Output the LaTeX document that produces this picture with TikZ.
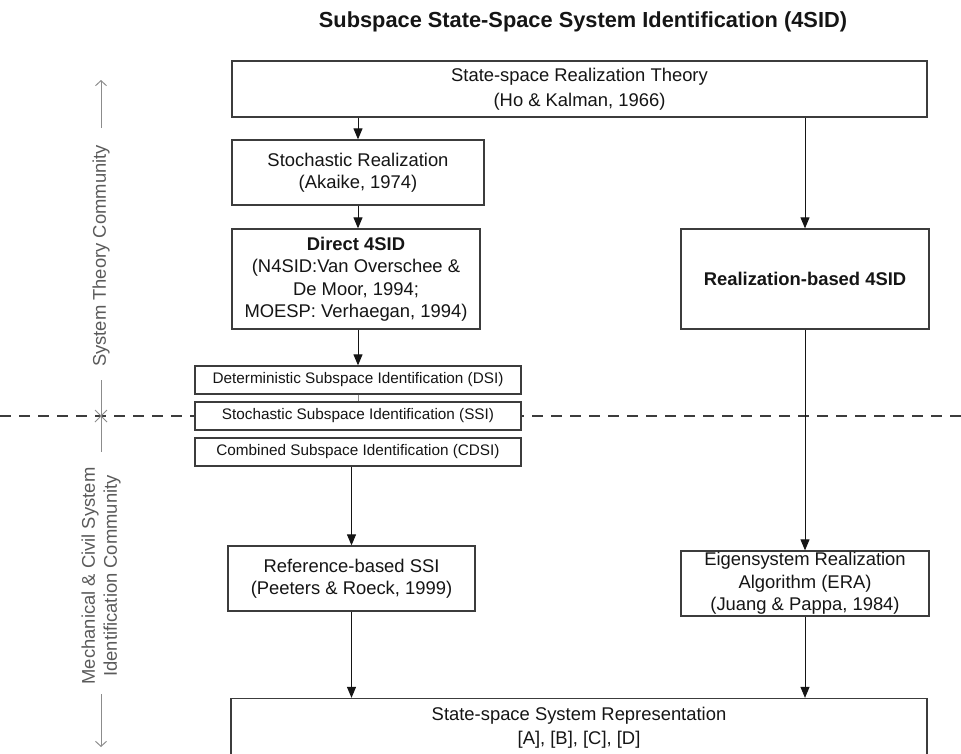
\documentclass[tikz,border=0pt]{standalone}
\usepackage{fontspec}
\setmainfont{Liberation Sans}
\usetikzlibrary{arrows.meta}
\definecolor{boxgray}{HTML}{3C3C3C}
\definecolor{axisgray}{HTML}{8C8C8C}
\definecolor{labelgray}{HTML}{5A5A5A}
\definecolor{inkblack}{HTML}{151515}
\begin{document}
\begin{tikzpicture}[x=1pt,y=-1pt,
  box/.style={draw=boxgray, line width=1.3pt, fill=white, align=center,
    inner sep=0pt, text=inkblack, font=\fontsize{18.4}{22.5}\selectfont},
  smallbox/.style={box, minimum width=326, minimum height=28,
    font=\fontsize{15.3}{18}\selectfont},
  flow/.style={draw=inkblack, line width=1pt, -{Triangle[length=11pt,width=9pt]}},
  link/.style={draw=axisgray, line width=0.8pt},
  axis/.style={draw=axisgray, line width=1pt},
  axisarrow/.style={axis, -{Straight Barb[length=5pt,width=11pt]}},
  axislabel/.style={rotate=90, align=center, text=labelgray,
    font=\fontsize{18.4}{22}\selectfont},
  divider/.style={draw=boxgray, line width=1.1pt, dash pattern=on 11pt off 8pt}
]
\useasboundingbox (0,0) rectangle (961,753);

% title
\node[anchor=base, text=inkblack, font=\bfseries\fontsize{21.8}{26}\selectfont]
  (title) at (583,27) {Subspace State-Space System Identification (4SID)};

% boundary between the two communities
\coordinate (dashL) at (0,416);
\coordinate (dashR) at (961,416);
\draw[divider] (dashL) -- (dashR);

% community axis on the left
\coordinate (upTip) at (101,80);
\coordinate (upEnd) at (101,128);
\coordinate (midTop) at (101,380);
\coordinate (cross) at (101,416);
\coordinate (midBot) at (101,452);
\coordinate (downEnd) at (101,694);
\coordinate (downTip) at (101,747);
\draw[axisarrow] (upEnd) -- (upTip);
\node[axislabel] (theory) at (101,256) {System Theory Community};
\draw[axis] (midTop) -- (midBot);
\draw[axis] ([shift={(-6,-6)}]cross) -- ([shift={(6,6)}]cross)
            ([shift={(-6,6)}]cross) -- ([shift={(6,-6)}]cross);
\node[axislabel] (mech) at (101,576) {Mechanical \& Civil System\\Identification Community};
\draw[axisarrow] (downEnd) -- (downTip);

% boxes
\node[box, minimum width=695, minimum height=56,
      font=\fontsize{18.4}{24.5}\selectfont] (top) at (579.5,89)
  {State-space Realization Theory\\(Ho \& Kalman, 1966)};
\node[box, minimum width=252, minimum height=65] (stoch) at (358,172.5)
  {Stochastic Realization\\(Akaike, 1974)};
\node[box, minimum width=248, minimum height=100] (direct) at (356,279)
  {\textbf{Direct 4SID}\\(N4SID:Van Overschee \&\\De Moor, 1994;\\MOESP: Verhaegan, 1994)};
\node[box, minimum width=248, minimum height=100] (realiz) at (805,279)
  {\textbf{Realization-based 4SID}};
\node[smallbox] (dsi) at (358,380) {Deterministic Subspace Identification (DSI)};
\node[smallbox] (ssi) at (358,416) {Stochastic Subspace Identification (SSI)};
\node[smallbox] (cdsi) at (358,452) {Combined Subspace Identification (CDSI)};
\node[box, minimum width=247, minimum height=65] (ref) at (351.5,578.5)
  {Reference-based SSI\\(Peeters \& Roeck, 1999)};
\node[box, minimum width=248, minimum height=65] (era) at (805,583.5)
  {Eigensystem Realization\\Algorithm (ERA)\\(Juang \& Pappa, 1984)};
\node[box, minimum width=696, minimum height=59,
      font=\fontsize{18.4}{24}\selectfont] (bottom) at (579,728)
  {State-space System Representation\\{[A], [B], [C], [D]}};

% connectors
\draw[flow] (stoch.north |- top.south) -- (stoch.north);
\draw[flow] (stoch.south) -- (stoch.south |- direct.north);
\draw[flow] (realiz.north |- top.south) -- (realiz.north);
\draw[flow] (dsi.north |- direct.south) -- (dsi.north);
\draw[link] (dsi.south) -- (ssi.north);
\draw[flow] (ref.north |- cdsi.south) -- (ref.north);
\draw[flow] (realiz.south) -- (era.north);
\draw[flow] (ref.south) -- (ref.south |- bottom.north);
\draw[flow] (era.south) -- (era.south |- bottom.north);
\end{tikzpicture}
\end{document}
